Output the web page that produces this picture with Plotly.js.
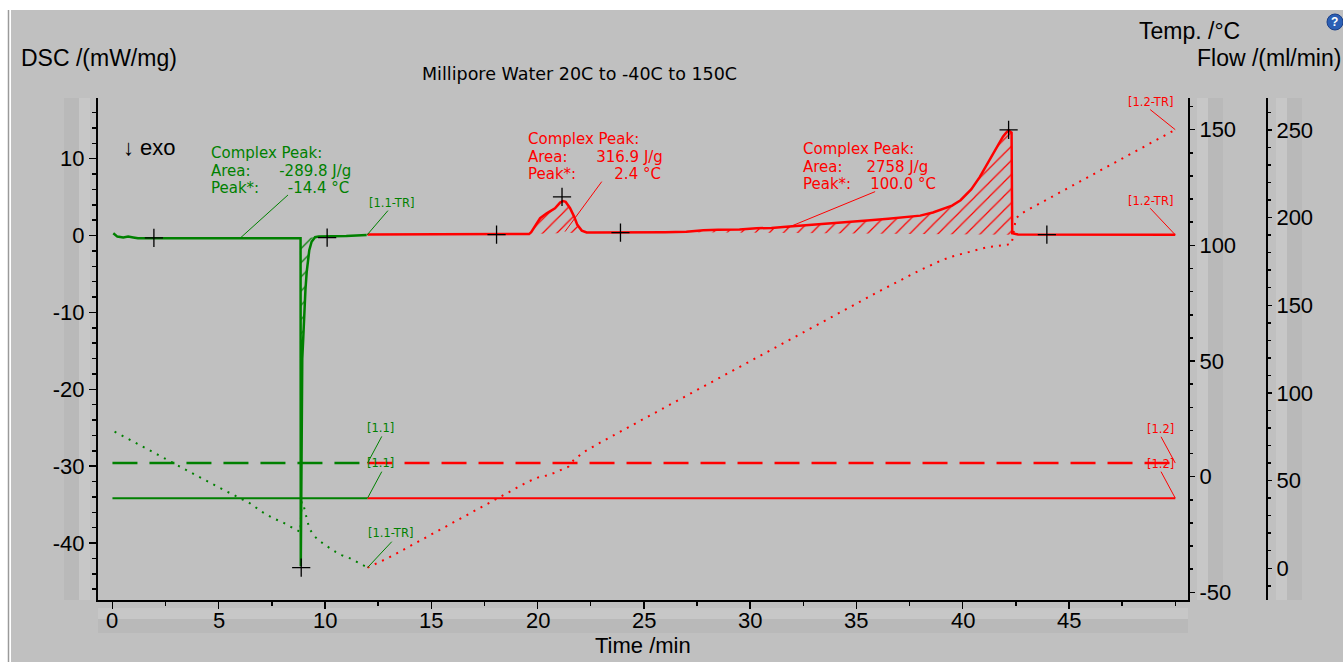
<!DOCTYPE html>
<html><head><meta charset="utf-8">
<script src="https://cdn.plot.ly/plotly-3.0.1.min.js"></script>
<style>html,body{margin:0;padding:0;background:#fff;}#chart{width:1343px;height:662px;}</style>
</head><body><div id="chart"></div>
<script>
// ---------------- data ----------------
// DSC, segment 1.1 (cooling 20 -> -40 C), mW/mg
const dscTime11  = [0.04, 0.23, 0.51, 0.74, 0.98, 1.2, 1.95, 3, 4, 5, 6, 7, 8, 8.5, 8.85, 8.86, 8.88, 8.9, 8.93, 8.98, 9.03, 9.08, 9.14, 9.2, 9.26, 9.37, 9.53, 9.7, 10.1, 11, 11.96];
const dscValue11 = [0.31, -0.13, -0.24, -0.13, -0.24, -0.35, -0.35, -0.35, -0.35, -0.35, -0.35, -0.35, -0.35, -0.35, -0.35, -43.0, -30, -20.2, -16, -13.1, -9.4, -7, -4.7, -3.0, -1.9, -0.8, -0.2, -0.13, -0.13, -0.05, 0.09];
// DSC, segment 1.2 (heating -40 -> 150 C)
const dscTime12  = [12, 14, 16, 18.07, 19.5, 19.6, 19.7, 19.88, 20.12, 20.43, 20.82, 21.06, 21.2, 21.32, 21.53, 21.72, 21.87, 22.08, 22.31, 22.6, 23.9, 25, 26, 27, 27.8, 28.5, 29.5, 30.3, 31, 31.7, 32.5, 33.5, 34.5, 35.5, 36.5, 37.3, 38.0, 38.6, 39.1, 39.5, 39.9, 40.4, 40.8, 41.1, 41.45, 41.7, 41.9, 42.05, 42.16, 42.3, 42.33, 42.6, 43, 44, 46, 48, 50];
const dscValue12 = [0.15, 0.15, 0.15, 0.15, 0.15, 0.2, 0.45, 1.17, 2.26, 2.9, 3.56, 4.3, 4.5, 4.4, 3.56, 2.47, 1.4, 0.65, 0.4, 0.4, 0.4, 0.4, 0.45, 0.5, 0.7, 0.75, 0.8, 0.95, 1.0, 1.15, 1.3, 1.5, 1.7, 1.95, 2.2, 2.4, 2.6, 3.0, 3.5, 3.9, 4.6, 6.0, 7.6, 9.0, 10.7, 11.8, 12.9, 13.4, 13.7, 13.4, 0.3, 0.15, 0.15, 0.12, 0.12, 0.1, 0.1];
// Sample temperature, C
const tempTime11  = [0.1, 1, 2, 3, 4, 5, 5.7, 6.47, 7.02, 7.57, 8.0, 8.51, 8.84, 8.9, 8.98, 9.06, 9.17, 9.26, 9.45, 9.69, 10.0, 10.24, 10.5, 10.78, 11.18, 11.49, 11.96, 12.0];
const tempValue11 = [19.5, 15.0, 10.2, 5.2, 0.3, -4.6, -7.9, -11.5, -15.1, -18.0, -19.7, -22.4, -23.9, -10.8, -11.8, -15.1, -18.7, -22.3, -25.2, -27.4, -29.5, -31.0, -32.5, -33.9, -35.3, -36.8, -38.9, -39.3];
const tempTime12  = [12.0, 13, 14, 15, 16, 17, 18, 19, 19.5, 20.0, 20.2, 20.5, 20.8, 21.14, 21.45, 21.7, 21.9, 22.15, 22.6, 23, 25, 27, 30, 33, 36, 38, 39, 39.5, 40.4, 41.2, 42.0, 42.3, 42.4, 42.5, 42.7, 44, 46, 48, 50];
const tempValue12 = [-39.3, -35, -30, -25, -20, -15, -10, -5, -2.4, -0.4, 0.0, 0.7, 1.7, 2.9, 4.3, 7.2, 8.6, 10.5, 12.9, 15, 25, 35, 50, 65, 79.8, 89.3, 93.5, 95.2, 97.5, 99.3, 100.2, 100.6, 106, 111.5, 113.5, 120, 130, 140, 150];
// Gas flows, ml/min
const flowTime11  = [0.0, 12.0];
const purgeFlow11 = [60, 60];
const protFlow11  = [40, 40];
const flowTime12  = [12.0, 50.0];
const purgeFlow12 = [60, 60];
const protFlow12  = [40, 40];
// Evaluation limit / peak markers
const markTime11  = [1.95, 8.88, 10.1];
const markValue11 = [-0.3, -43.2, -0.25];
const markTime12  = [18.07, 21.15, 23.9, 42.16, 43.96];
const markValue12 = [0.12, 5.05, 0.4, 13.75, 0.12];
// Peak evaluation results
const peakLabels = ['Complex Peak:', 'Area:', 'Peak*:'];
const peakAreas  = ['-289.8 J/g', '316.9 J/g', '2758 J/g'];
const peakTemps  = ['-14.4 °C', '2.4 °C', '100.0 °C'];
// integration ranges (min) and their baselines (mW/mg)
const hatchRange11  = [8.86, 9.53];   const hatchBase11  = [-0.35, -0.2];
const hatchRange12a = [19.6, 22.31];  const hatchBase12a = [0.2, 0.4];
const hatchRange12b = [27.0, 42.3];   const hatchBase12b = [0.45, 0.12];
// Ticks
const timeTicks = [0, 5, 10, 15, 20, 25, 30, 35, 40, 45];
const dscTicks  = [-40, -30, -20, -10, 0, 10];
const tempTicks = [-50, 0, 50, 100, 150];
const flowTicks = [0, 50, 100, 150, 200, 250];

// ---------------- styling ----------------
const G = '#008000', R = '#ff0000';
const FONT = 'Arial, "Liberation Sans", sans-serif';
const WFONT = '"DejaVu Sans", Verdana, sans-serif';
const PL = 98, PT = 98, PW = 1225, PH = 502;
const px2x = p => (p - PL) / PW;
const py2y = p => (PT + PH - p) / PH;

function slice(t, v, r) {
  const xs = [], ys = [];
  t.forEach((ti, i) => { if (ti >= r[0] - 1e-9 && ti <= r[1] + 1e-9) { xs.push(ti); ys.push(v[i]); } });
  return {xs, ys};
}
function hatch(range, base, t, v, color) {
  const s = slice(t, v, range);
  return [
    {x: range, y: base, mode: 'lines', line: {width: 0, color: color}, hoverinfo: 'skip', showlegend: false},
    {x: s.xs, y: s.ys, mode: 'lines', line: {width: 0, color: color}, fill: 'tonexty',
     fillcolor: 'rgba(0,0,0,0)',
     fillpattern: {shape: '/', fgcolor: color, bgcolor: 'rgba(0,0,0,0)', size: 10, solidity: 0.12},
     hoverinfo: 'skip', showlegend: false}
  ];
}
const ln = (x, y, color, width, dash, yaxis) => ({x, y, mode: 'lines', yaxis: yaxis || 'y',
  line: {color, width, dash: dash || 'solid'}, showlegend: false, hoverinfo: 'skip'});

const traces = [
  ...hatch(hatchRange11, hatchBase11, dscTime11, dscValue11, G),
  ...hatch(hatchRange12a, hatchBase12a, dscTime12, dscValue12, R),
  ...hatch(hatchRange12b, hatchBase12b, dscTime12, dscValue12, R),
  ln(flowTime11, purgeFlow11, G, 2.5, '25px,12px', 'y3'),
  ln(flowTime12, purgeFlow12, R, 2.5, '25px,12px', 'y3'),
  ln(flowTime11, protFlow11, G, 2, 'solid', 'y3'),
  ln(flowTime12, protFlow12, R, 2, 'solid', 'y3'),
  ln(tempTime11, tempValue11, G, 2, '2px,6px', 'y2'),
  ln(tempTime12, tempValue12, R, 2, '2px,6px', 'y2'),
  ln(dscTime11, dscValue11, G, 2.5),
  ln(dscTime12, dscValue12, R, 2.5),
  {x: markTime11.concat(markTime12), y: markValue11.concat(markValue12), mode: 'markers',
   marker: {symbol: 'cross-thin', size: 13, line: {color: '#000', width: 1.3}}, showlegend: false, hoverinfo: 'skip'}
];

// ---------------- layout ----------------
const axisCommon = {showline: true, linecolor: '#000', linewidth: 2, ticks: 'outside', tickcolor: '#000',
  tickwidth: 1.5, showgrid: false, zeroline: false, tickfont: {family: FONT, size: 22, color: '#000'},
  tickmode: 'array', fixedrange: true};

const shapes = [];
const rect = (x0, x1, y0, y1, color) => shapes.push({type: 'rect', xref: 'paper', yref: 'paper', layer: 'below',
  x0: px2x(x0), x1: px2x(x1), y0: py2y(y1), y1: py2y(y0), fillcolor: color, line: {width: 0}});
rect(11, 1343, 10, 662, '#c0c0c0');
shapes.push({type: 'line', xref: 'paper', yref: 'paper', layer: 'below', x0: px2x(8.5), x1: px2x(8.5), y0: py2y(662), y1: py2y(10), line: {color: '#9a9a9a', width: 1.5}});
rect(64, 79, 98, 600, '#b9b9b9');  rect(79, 90, 98, 600, '#c7c7c7');
rect(98, 1188, 608, 619, '#c7c7c7'); rect(98, 1188, 619, 633, '#b9b9b9');
rect(1197, 1208, 98, 600, '#c7c7c7'); rect(1208, 1223, 98, 600, '#b9b9b9');
rect(1276, 1287, 98, 600, '#c7c7c7'); rect(1287, 1302, 98, 600, '#b9b9b9');
// help icon
shapes.push({type: 'circle', xref: 'paper', yref: 'paper', x0: px2x(1327), x1: px2x(1343), y0: py2y(30), y1: py2y(14),
  fillcolor: '#2b5fb4', line: {color: '#1b3f88', width: 1}});

// leader lines (data coordinates)
const leaders = [
  ['y', G, 8.26, 5.29, 6.0, -0.35], ['y', G, 12.96, 3.25, 11.98, 0.09],
  ['y3', G, 12.67, 75.2, 12.0, 60], ['y3', G, 12.67, 55.1, 12.0, 40],
  ['y2', G, 13.14, -28.1, 12.0, -39.3],
  ['y', R, 23.02, 7.02, 21.29, 0.52], ['y', R, 35.88, 5.72, 31.73, 1.0],
  ['y2', R, 48.82, 158.7, 50, 150], ['y', R, 48.82, 3.56, 50, 0.1],
  ['y3', R, 49.33, 75.0, 50, 60], ['y3', R, 49.33, 55.1, 50, 40]
];
leaders.forEach(l => shapes.push({type: 'line', xref: 'x', yref: l[0], x0: l[2], y0: l[3], x1: l[4], y1: l[5],
  line: {color: l[1], width: 1}}));

const annotations = [];
const pAnn = (text, x, y, size, opts) => annotations.push(Object.assign({text, xref: 'paper', yref: 'paper',
  x: px2x(x), y: py2y(y), xanchor: 'center', yanchor: 'middle', showarrow: false,
  font: {family: FONT, size, color: '#000'}}, opts || {}));
pAnn('DSC /(mW/mg)', 19, 58, 23, {xanchor: 'left'});
pAnn('Temp. /°C', 1189.5, 31, 23);
pAnn('Flow /(ml/min)', 1269, 57.5, 23);
pAnn('Time /min', 643, 645.5, 22);
pAnn('Millipore Water 20C to -40C to 150C', 579, 73.5, 17.5, {font: {family: WFONT, size: 17.5, color: '#000'}});
pAnn('↓ exo', 121, 147, 22, {xanchor: 'left'});
pAnn('<b>?</b>', 1335, 22, 12, {font: {family: FONT, size: 12, color: '#fff'}});
// time-axis tick labels, placed at the tick values
timeTicks.forEach(t => annotations.push({text: String(t), x: t, xref: 'x', y: py2y(620.5), yref: 'paper',
  xanchor: 'center', yanchor: 'middle', showarrow: false, font: {family: FONT, size: 22, color: '#000'}}));

// peak result texts: one block each, tight line spacing like the original
const sp = n => '\u00a0'.repeat(n);
const big = s => '<span style="font-size:15px">' + s + '</span>';
const peakPos = [
  {c: G, x: 4.588, y: 8.50, na: 6, np: 6},
  {c: R, x: 19.49, y: 10.27, na: 6, np: 8},
  {c: R, x: 32.46, y: 8.97, na: 5, np: 4}
];
peakPos.forEach((p, i) => {
  const text = big(peakLabels[0]) + '<br>' + big(peakLabels[1] + sp(p.na) + peakAreas[i]) + '<br>' +
               big(peakLabels[2] + sp(p.np) + peakTemps[i]);
  annotations.push({text, x: p.x, y: p.y, xref: 'x', yref: 'y', xanchor: 'left', yanchor: 'middle', align: 'left',
    showarrow: false, borderpad: 0, font: {family: WFONT, size: 13.6, color: p.c}});
});
// segment labels
const segLabels = [
  ['[1.1-TR]', 13.13, 4.25, 'y', G], ['[1.1]', 12.61, 80.0, 'y3', G], ['[1.1]', 12.61, 60.0, 'y3', G],
  ['[1.1-TR]', 13.08, -24.3, 'y2', G], ['[1.2-TR]', 48.85, 161.8, 'y2', R], ['[1.2-TR]', 48.85, 4.51, 'y', R],
  ['[1.2]', 49.32, 79.4, 'y3', R], ['[1.2]', 49.32, 59.5, 'y3', R]
];
segLabels.forEach(s => annotations.push({text: s[0], x: s[1], y: s[2], xref: 'x', yref: s[3], showarrow: false,
  xanchor: 'center', yanchor: 'middle', borderpad: 0, font: {family: WFONT, size: 11.5, color: s[4]}}));

const layout = {
  width: 1343, height: 662,
  margin: {l: PL, r: 1343 - PL - PW, t: PT, b: 662 - PT - PH, pad: 0},
  paper_bgcolor: '#ffffff', plot_bgcolor: 'rgba(0,0,0,0)',
  font: {family: FONT, color: '#000'},
  showlegend: false,
  xaxis: Object.assign({}, axisCommon, {domain: [0, 1090 / PW], range: [-0.68, 50.6], anchor: 'y',
    tickvals: timeTicks, ticktext: timeTicks.map(String), ticklen: 7, showticklabels: false,
    minor: {tickmode: 'linear', tick0: 0, dtick: 2.5, ticks: 'outside', ticklen: 4, tickcolor: '#000', tickwidth: 1.5}}),
  yaxis: Object.assign({}, axisCommon, {range: [-47.4, 17.9], anchor: 'x', side: 'left',
    tickvals: dscTicks, ticktext: dscTicks.map(String), ticklen: 7, ticklabelstandoff: 0,
    minor: {tickmode: 'linear', tick0: 0, dtick: 2, ticks: 'outside', ticklen: 4, tickcolor: '#000', tickwidth: 1.5}}),
  yaxis2: Object.assign({}, axisCommon, {range: [-53.3, 163.7], overlaying: 'y', side: 'right', anchor: 'x',
    tickvals: tempTicks, ticktext: tempTicks.map(String), ticklen: 5, ticklabelstandoff: 0,
    minor: {tickmode: 'linear', tick0: 0, dtick: 10, ticks: 'outside', ticklen: 3, tickcolor: '#000', tickwidth: 1.5}}),
  yaxis3: Object.assign({}, axisCommon, {range: [-18.1, 268.2], overlaying: 'y', side: 'right', anchor: 'free',
    position: (1267 - PL) / PW,
    tickvals: flowTicks, ticktext: flowTicks.map(String), ticklen: 4, ticklabelstandoff: 0,
    minor: {tickmode: 'linear', tick0: 0, dtick: 10, ticks: 'outside', ticklen: 3, tickcolor: '#000', tickwidth: 1.5}}),
  shapes, annotations
};

Plotly.newPlot('chart', traces, layout, {displayModeBar: false, staticPlot: true});
</script></body></html>
